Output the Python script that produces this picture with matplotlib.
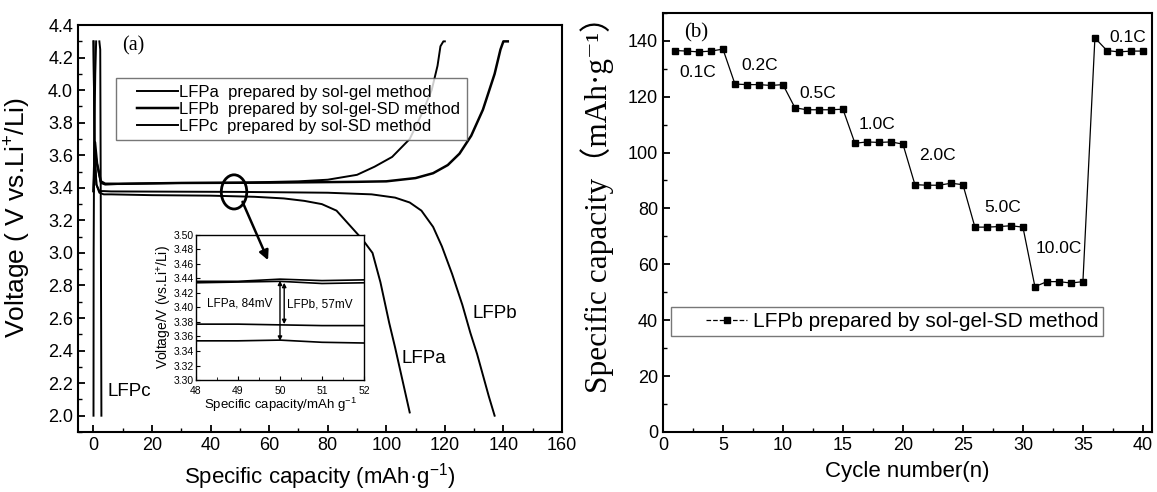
import numpy as np
import matplotlib
matplotlib.use('Agg')
import matplotlib.pyplot as plt
from matplotlib.patches import Ellipse, FancyArrowPatch
from matplotlib.ticker import MultipleLocator, FormatStrFormatter
from matplotlib.legend_handler import HandlerLine2D

plt.rcParams['font.family'] = ['Liberation Sans', 'DejaVu Sans']
plt.rcParams['mathtext.fontset'] = 'custom'
plt.rcParams['mathtext.rm'] = 'Liberation Sans'
plt.rcParams['mathtext.it'] = 'Liberation Sans:italic'
plt.rcParams['mathtext.bf'] = 'Liberation Sans:bold'

## (a) charge / discharge curves, capacity (mAh/g) vs voltage (V)
lfpa_chg_cap = [0, 0.5, 1.2, 2.5, 4, 10, 30, 50, 70, 80, 90, 96, 102, 108, 112, 115.5, 117.5, 118.5, 119.5, 120]
lfpa_chg_v = [3.38, 3.62, 3.55, 3.43, 3.42, 3.425, 3.43, 3.432, 3.44, 3.45, 3.48, 3.53, 3.59, 3.70, 3.85, 4.0, 4.15, 4.27, 4.3, 4.3]
lfpb_chg_cap = [0, 0.5, 1.2, 2.5, 4, 10, 30, 60, 90, 100, 110, 116, 121, 125, 129, 133, 137, 139, 140, 141.5]
lfpb_chg_v = [3.38, 3.68, 3.55, 3.44, 3.425, 3.425, 3.43, 3.432, 3.437, 3.44, 3.46, 3.49, 3.54, 3.61, 3.72, 3.88, 4.1, 4.25, 4.3, 4.3]
lfpa_dis_cap = [0, 0.4, 1, 2, 3.5, 6, 20, 40, 55, 65, 72, 78, 83, 88.5, 92, 95.3, 98, 101, 103, 105, 107, 108]
lfpa_dis_v = [4.3, 3.6, 3.42, 3.37, 3.36, 3.36, 3.355, 3.352, 3.345, 3.335, 3.32, 3.3, 3.26, 3.15, 3.08, 3.0, 2.82, 2.57, 2.42, 2.26, 2.1, 2.02]
lfpb_dis_cap = [0, 0.4, 1, 2, 3.5, 6, 20, 50, 80, 95, 103, 108, 112, 116, 119, 122.5, 126, 128.7, 131, 133, 135, 137]
lfpb_dis_v = [4.3, 3.6, 3.42, 3.38, 3.38, 3.378, 3.377, 3.375, 3.37, 3.36, 3.34, 3.31, 3.26, 3.16, 3.04, 2.87, 2.68, 2.51, 2.38, 2.25, 2.12, 2.0]
lfpc_chg_cap = [0, 0.05, 0.2, 0.6, 0.9]
lfpc_chg_v = [2.0, 3.0, 3.6, 4.1, 4.3]
lfpc_dis_cap = [2.0, 2.3, 2.45, 2.6, 2.7]
lfpc_dis_v = [4.3, 4.25, 3.5, 2.6, 2.0]

## inset: zoom of the plateaus
ins_cap = [48, 49, 50, 51, 52]
ins_a_chg = [3.436, 3.436, 3.439, 3.437, 3.438]
ins_b_chg = [3.434, 3.435, 3.436, 3.433, 3.434]
ins_b_dis = [3.377, 3.377, 3.376, 3.375, 3.375]
ins_a_dis = [3.354, 3.354, 3.355, 3.352, 3.351]

## (b) rate capability
cycles = np.arange(1, 41)
capacity = [136.5, 136.3, 136.0, 136.3, 137.0,
            124.5, 124.3, 124.3, 124.0, 124.3,
            116.0, 115.3, 115.3, 115.3, 115.5,
            103.3, 103.8, 103.6, 103.8, 103.0,
            88.5, 88.3, 88.3, 89.0, 88.5,
            73.3, 73.3, 73.5, 73.8, 73.3,
            52.0, 53.8, 53.8, 53.3, 53.8,
            141.0, 136.5, 136.0, 136.3, 136.3]
rate_labels = ['0.1C', '0.2C', '0.5C', '1.0C', '2.0C', '5.0C', '10.0C', '0.1C']
rate_x = [2.9, 8.1, 12.9, 17.8, 22.9, 28.3, 33.0, 38.7]
rate_y = [128.6, 131, 121, 110, 99, 80.4, 65.7, 141]


class OffsetHandler(HandlerLine2D):
    # draws the legend line only in the right part of the handle box
    def __init__(self, frac, **kw):
        self.frac = frac
        super().__init__(**kw)

    def create_artists(self, legend, orig_handle, xdescent, ydescent, width, height, fontsize, trans):
        off = self.frac * width
        return super().create_artists(legend, orig_handle, xdescent - off, ydescent,
                                      width - off, height, fontsize, trans)


fig = plt.figure(figsize=(11.57, 4.92), dpi=100)

def style(ax):
    for s in ax.spines.values():
        s.set_linewidth(1.5)
    ax.tick_params(which='both', direction='in', top=False, right=False, labelsize=13)
    ax.tick_params(which='major', length=5, width=1.3)
    ax.tick_params(which='minor', length=3, width=1.0)

#### panel (a)
ax1 = fig.add_axes([0.0674, 0.122, 0.4183, 0.827])
lw = 1.4
la, = ax1.plot(lfpa_chg_cap, lfpa_chg_v, color='k', lw=lw, label='LFPa  prepared by sol-gel method')
lb, = ax1.plot(lfpb_chg_cap, lfpb_chg_v, color='k', lw=lw + 0.4, label='LFPb  prepared by sol-gel-SD method')
lc, = ax1.plot(lfpc_chg_cap, lfpc_chg_v, color='k', lw=lw, label='LFPc  prepared by sol-SD method')
ax1.plot(lfpa_dis_cap, lfpa_dis_v, color='k', lw=lw)
ax1.plot(lfpb_dis_cap, lfpb_dis_v, color='k', lw=lw)
ax1.plot(lfpc_dis_cap, lfpc_dis_v, color='k', lw=lw)
ax1.set_xlim(-5.3, 160)
ax1.set_ylim(1.9, 4.4)
ax1.xaxis.set_major_locator(MultipleLocator(20))
ax1.xaxis.set_minor_locator(MultipleLocator(10))
ax1.yaxis.set_major_locator(MultipleLocator(0.2))
ax1.yaxis.set_minor_locator(MultipleLocator(0.1))
ax1.yaxis.set_major_formatter(FormatStrFormatter('%.1f'))
style(ax1)
ax1.set_xlabel('Specific capacity (mAh·g$^{-1}$)', fontsize=16, labelpad=5)
ax1.set_ylabel('Voltage ( V vs.Li$^{+}$/Li)', fontsize=19)
ax1.yaxis.set_label_coords(-0.093, 0.526)
ax1.text(13.5, 4.27, '(a)', family='Liberation Serif', fontsize=14.5, ha='center', va='center')
ax1.text(12.1, 2.15, 'LFPc', fontsize=13.5, ha='center', va='center')
ax1.text(112.7, 2.35, 'LFPa', fontsize=13.5, ha='center', va='center')
ax1.text(137, 2.63, 'LFPb', fontsize=13.5, ha='center', va='center')
hmap = {h: OffsetHandler(0.26) for h in (la, lb, lc)}
leg = ax1.legend(loc='upper left', bbox_to_anchor=(0.0785, 0.87), fontsize=12, frameon=True,
                 fancybox=False, handlelength=3.3, handletextpad=0.1, borderpad=0.4,
                 labelspacing=0.12, borderaxespad=0, handler_map=hmap)
leg.get_frame().set_edgecolor('#555555')
leg.get_frame().set_linewidth(1.0)
ax1.add_patch(Ellipse((48.0, 3.375), 8.7, 0.21, fc='none', ec='k', lw=2))

#### inset
axi = fig.add_axes([0.1694, 0.2276, 0.1452, 0.295])
axi.plot(ins_cap, ins_a_chg, color='k', lw=1.2)
axi.plot(ins_cap, ins_b_chg, color='k', lw=1.2)
axi.plot(ins_cap, ins_b_dis, color='k', lw=1.2)
axi.plot(ins_cap, ins_a_dis, color='k', lw=1.2)
axi.set_xlim(48, 52)
axi.set_ylim(3.30, 3.50)
axi.xaxis.set_major_locator(MultipleLocator(1))
axi.xaxis.set_minor_locator(MultipleLocator(0.5))
axi.yaxis.set_major_locator(MultipleLocator(0.02))
axi.yaxis.set_major_formatter(FormatStrFormatter('%.2f'))
for s in axi.spines.values():
    s.set_linewidth(1.0)
axi.tick_params(which='both', direction='in', labelsize=7.5)
axi.tick_params(axis='y', pad=1.5)
axi.tick_params(axis='x', pad=4)
axi.tick_params(which='major', length=3)
axi.tick_params(which='minor', length=2)
axi.set_xlabel('Specific capacity/mAh g$^{-1}$', fontsize=9.5, labelpad=0.5)
axi.set_ylabel('Voltage/V (vs.Li$^{+}$/Li)', fontsize=10, labelpad=0)
axi.annotate('', xy=(50, 3.354), xytext=(50, 3.437),
             arrowprops=dict(arrowstyle='<|-|>', color='k', lw=1, mutation_scale=6, shrinkA=0, shrinkB=0))
axi.annotate('', xy=(50.1, 3.377), xytext=(50.1, 3.434),
             arrowprops=dict(arrowstyle='<|-|>', color='k', lw=1, mutation_scale=6, shrinkA=0, shrinkB=0))
axi.text(49.05, 3.406, 'LFPa, 84mV', fontsize=8.5, ha='center', va='center')
axi.text(50.95, 3.404, 'LFPb, 57mV', fontsize=8.5, ha='center', va='center')

# arrow from the ellipse into the inset, drawn on top of both axes
arr = FancyArrowPatch((50.5, 3.33), (60, 2.94), transform=ax1.transData,
                      arrowstyle='-|>', color='k', lw=1.8, mutation_scale=14)
fig.add_artist(arr)

#### panel (b)
ax2 = fig.add_axes([0.573, 0.122, 0.4226, 0.852])
lr, = ax2.plot(cycles, capacity, color='k', lw=0.9, marker='s', markersize=5,
               label='LFPb prepared by sol-gel-SD method')
ax2.set_xlim(0, 40.75)
ax2.set_ylim(0, 150)
ax2.xaxis.set_major_locator(MultipleLocator(5))
ax2.xaxis.set_minor_locator(MultipleLocator(2.5))
ax2.yaxis.set_major_locator(MultipleLocator(20))
ax2.yaxis.set_minor_locator(MultipleLocator(10))
style(ax2)
for lab, x, y in zip(rate_labels, rate_x, rate_y):
    ax2.text(x, y, lab, fontsize=12.5, ha='center', va='center')
ax2.text(2.75, 142.9, '(b)', family='Liberation Serif', fontsize=15, ha='center', va='center')
ax2.set_xlabel('Cycle number(n)', fontsize=16, labelpad=5)
ax2.set_ylabel('Specific capacity（mAh·g⁻¹）', fontsize=22.5,
               family=['Liberation Serif', 'DejaVu Serif', 'Noto Sans CJK SC'])
ax2.yaxis.set_label_coords(-0.1, 0.56)
leg2 = ax2.legend(loc='upper left', bbox_to_anchor=(0.017, 0.298), fontsize=15, frameon=True,
                  fancybox=False, handlelength=3.4, handletextpad=0.25, borderpad=0.25,
                  borderaxespad=0, handler_map={lr: OffsetHandler(0.42)})
leg2.get_lines()[0].set_linestyle('--')
leg2.get_frame().set_edgecolor('#555555')
leg2.get_frame().set_linewidth(1.0)

fig.savefig('out.png', dpi=100)
